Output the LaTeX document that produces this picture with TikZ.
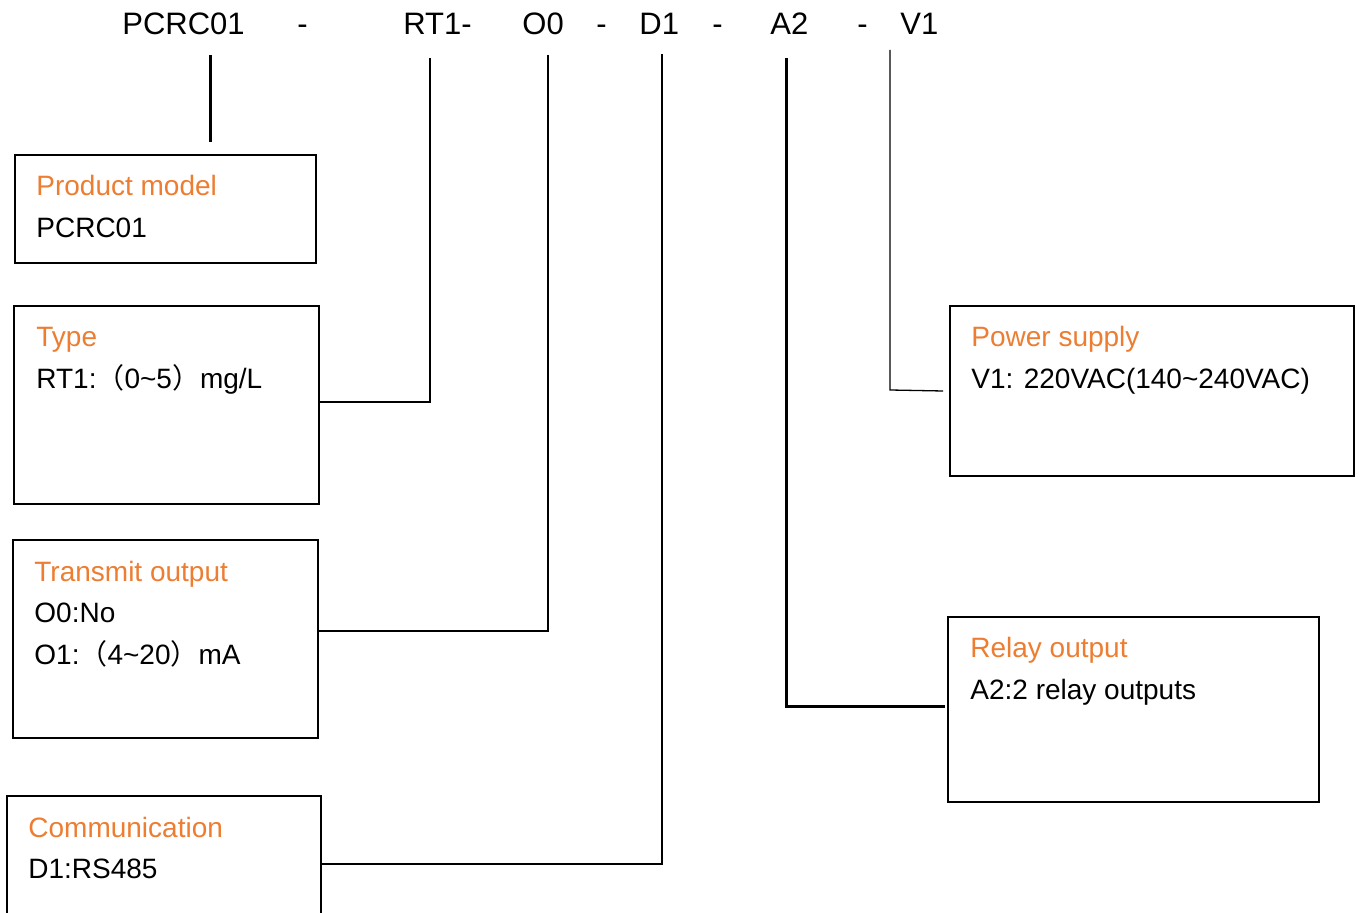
\documentclass[tikz,border=0pt]{standalone}
\usepackage{fontspec}
\setmainfont{Liberation Sans}
\newfontfamily\cjk{Noto Sans CJK SC}
\definecolor{hdr}{HTML}{ED7D31}
\begin{document}
\begin{tikzpicture}[x=0.5pt,y=-0.5pt,
  box/.style={draw,line width=1pt,anchor=north west,inner sep=0pt,outer sep=0pt},
  top/.style={anchor=base west,inner sep=0pt,font=\fontsize{15.5pt}{18pt}\selectfont},
  hd/.style={anchor=base west,inner sep=0pt,text=hdr,font=\fontsize{14pt}{17pt}\selectfont},
  tx/.style={anchor=base west,inner sep=0pt,font=\fontsize{14pt}{17pt}\selectfont},
  thinl/.style={line width=0.65pt},
  midl/.style={line width=1pt},
  thickl/.style={line width=1.5pt}]
\useasboundingbox (0,0) rectangle (1365,913);
\clip (0,0) rectangle (1365,913);
\fill[white] (0,0) rectangle (1365,913);
% top code labels
\node[top] (m1) at (122,35) {PCRC01};
\node[top] (m2) at (297,35) {-};
\node[top] (m3) at (403,35) {RT1-};
\node[top] (m4) at (522,35) {O0};
\node[top] (m5) at (596,35) {-};
\node[top] (m6) at (639,35) {D1};
\node[top] (m7) at (712,35) {-};
\node[top] (m8) at (770,35) {A2};
\node[top] (m9) at (857,35) {-};
\node[top] (m10) at (900,35) {V1};
% boxes
\node[box,minimum width=150.5pt,minimum height=54pt] (prod) at (15,155) {};
\node[box,minimum width=152.5pt,minimum height=99pt] (type) at (14,306) {};
\node[box,minimum width=152.5pt,minimum height=99pt] (trans) at (13,540) {};
\node[box,minimum width=157pt,minimum height=102pt] (comm) at (7,796) {};
\node[box,minimum width=202pt,minimum height=85pt] (power) at (950,306) {};
\node[box,minimum width=185.5pt,minimum height=92.5pt] (relay) at (948,617) {};
% box texts
\node[hd] (prodh) at (36,196) {Product model};
\node[tx] (prodt) at (36,238) {PCRC01};
\node[hd] (typeh) at (36,347) {Type};
\node[tx] (typet) at (36,389) {RT1:{\cjk （}0\char`~5{\cjk ）}mg/L};
\node[hd] (transh) at (34,582) {Transmit output};
\node[tx] (transt1) at (34,623) {O0:No};
\node[tx] (transt2) at (34,665) {O1:{\cjk （}4\char`~20{\cjk ）}mA};
\node[hd] (commh) at (28,837) {Communication};
\node[tx] (commt) at (28,878) {D1:RS485};
\node[hd] (powerh) at (971,347) {Power supply};
\node[tx] (powert) at (971,389) {V1: 220VAC(140\char`~240VAC)};
\node[hd] (relayh) at (970,658) {Relay output};
\node[tx] (relayt) at (970,700) {A2:2 relay outputs};
% connector points
\coordinate (pA) at (210,55);
\coordinate (pB) at (210,142);
\coordinate (rA) at (430,58);
\coordinate (rB) at (430,402);
\coordinate (oA) at (548,55);
\coordinate (oB) at (548,631);
\coordinate (dA) at (662,54);
\coordinate (dB) at (662,864);
\coordinate (aA) at (786,58);
\coordinate (aB) at (786,707);
\coordinate (aC) at (945,707);
\coordinate (vA) at (890,50);
\coordinate (vB) at (890,390);
\coordinate (vC) at (943,391);
% connectors
\draw[thickl] (pA) -- (pB);
\draw[thinl] (rA) -- (rB) -- (rB -| type.east);
\draw[midl] (oA) -- (oB) -- (oB -| trans.east);
\draw[thinl,line width=0.8pt] (dA) -- (dB) -- (dB -| comm.east);
\draw[thickl] (aA) -- (aB) -- (aC);
\draw[thinl] (vA) -- (vB) -- (vC);
\end{tikzpicture}
\end{document}
